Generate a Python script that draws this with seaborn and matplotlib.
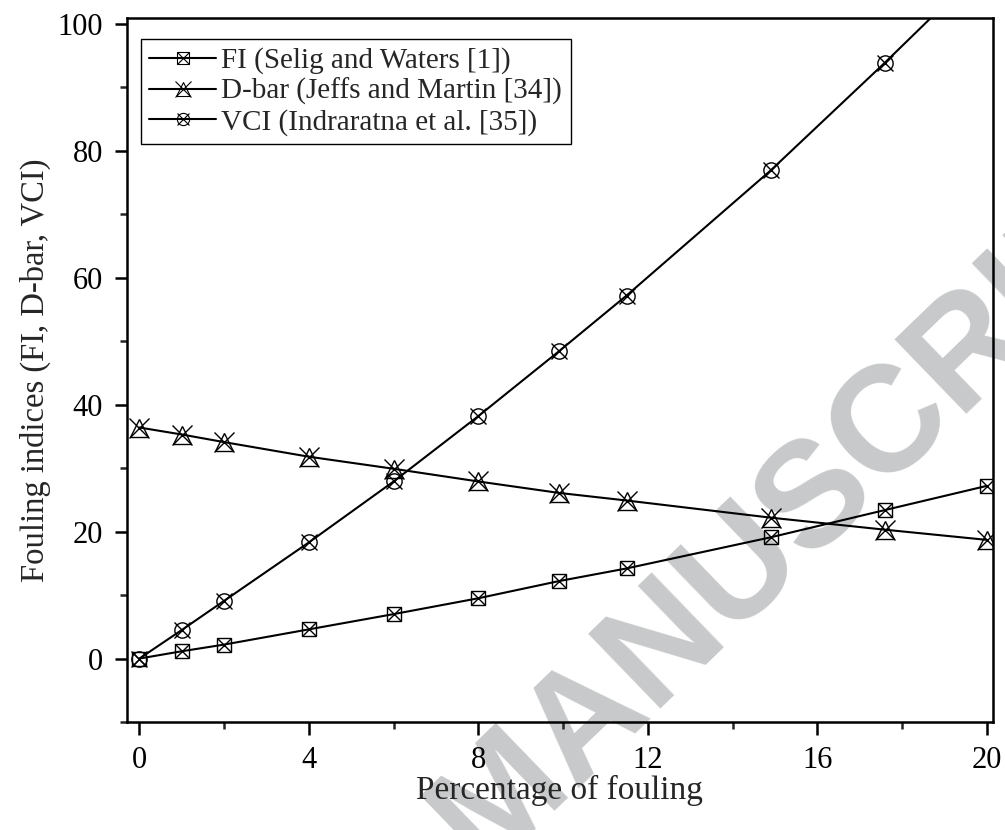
import matplotlib
matplotlib.use("Agg")
import matplotlib.pyplot as plt
import seaborn as sns
from matplotlib.lines import Line2D
from matplotlib.legend_handler import HandlerTuple
from matplotlib.ticker import MultipleLocator

# values
fouling = [0, 1, 2, 4, 6, 8, 9.9, 11.5, 14.9, 17.6, 20]
fi = [0, 1.15, 2.2, 4.6, 7.0, 9.5, 12.2, 14.2, 19.1, 23.4, 27.2]
dbar = [36.4, 35.3, 34.1, 31.8, 29.9, 27.9, 26.1, 24.9, 22.2, 20.3, 18.7]
vci = [0, 4.5, 9.1, 18.3, 27.9, 38.2, 48.4, 57.2, 76.9, 93.9, 109.5]

labels = ["FI (Selig and Waters [1])",
          "D-bar (Jeffs and Martin [34])",
          "VCI (Indraratna et al. [35])"]

sns.set_style("ticks")
plt.rcParams["font.family"] = ["Liberation Serif", "DejaVu Serif"]

fig = plt.figure(figsize=(10.05, 8.3), dpi=100)
ax = fig.add_axes([0.1261, 0.1301, 0.8620, 0.8488])
ax.set_facecolor("none")

# watermark (only the MANUSCRIPT part falls inside the crop)
fig.text(0.812, 0.404, "MANUSCRIPT", rotation=44, rotation_mode="anchor",
         ha="center", va="center", fontsize=108, fontweight="bold",
         family="Liberation Sans", color="#c8c9ca", zorder=-5)

# (base marker, size, x size) for each series
styles = [("s", 10, 10), ("^", 13, 14), ("o", 11, 11)]
series = [fi, dbar, vci]

handles = []
for vals, (mk, ms, xs) in zip(series, styles):
    sns.lineplot(x=fouling, y=vals, ax=ax, color="black", lw=1.5,
                 marker=mk, markersize=ms, markerfacecolor="none",
                 markeredgecolor="black", markeredgewidth=1.0)
    sns.lineplot(x=fouling, y=vals, ax=ax, color="black", linestyle="none",
                 marker="x", markersize=xs, markeredgecolor="black",
                 markeredgewidth=1.0)
    h1 = Line2D([], [], color="black", lw=1.5, marker=mk, markersize=ms * 0.8,
                markerfacecolor="none", markeredgecolor="black", markeredgewidth=0.8)
    h2 = Line2D([], [], color="black", linestyle="none", marker="x",
                markersize=xs * 0.8, markeredgecolor="black", markeredgewidth=0.8)
    handles.append((h1, h2))

ax.set_xlim(-0.3, 20.15)
ax.set_ylim(-10, 101)
ax.xaxis.set_major_locator(MultipleLocator(4))
ax.xaxis.set_minor_locator(MultipleLocator(2))
ax.yaxis.set_major_locator(MultipleLocator(20))
ax.yaxis.set_minor_locator(MultipleLocator(10))
ax.set_yticks([0, 20, 40, 60, 80, 100])

for s in ax.spines.values():
    s.set_linewidth(1.8)
    s.set_color("black")
ax.tick_params(which="major", direction="out", length=9, width=1.8,
               labelsize=22, pad=8, colors="black")
ax.tick_params(which="minor", direction="out", length=5, width=1.8)
ax.tick_params(top=False, right=False, which="both")

ax.set_xlabel("Percentage of fouling", fontsize=24, labelpad=0)
ax.set_ylabel("Fouling indices (FI, D-bar, VCI)", fontsize=23.5, labelpad=5)

leg = ax.legend(handles, labels, handler_map={tuple: HandlerTuple(ndivide=1)},
                loc="upper left", bbox_to_anchor=(0.016, 0.970), borderaxespad=0,
                fontsize=21, frameon=True, fancybox=False, edgecolor="black",
                handlelength=2.3, handletextpad=0.17, labelspacing=0.12,
                borderpad=0.3)
leg.get_frame().set_linewidth(1.0)
leg.get_frame().set_alpha(1)

fig.savefig("out.png", dpi=100)
